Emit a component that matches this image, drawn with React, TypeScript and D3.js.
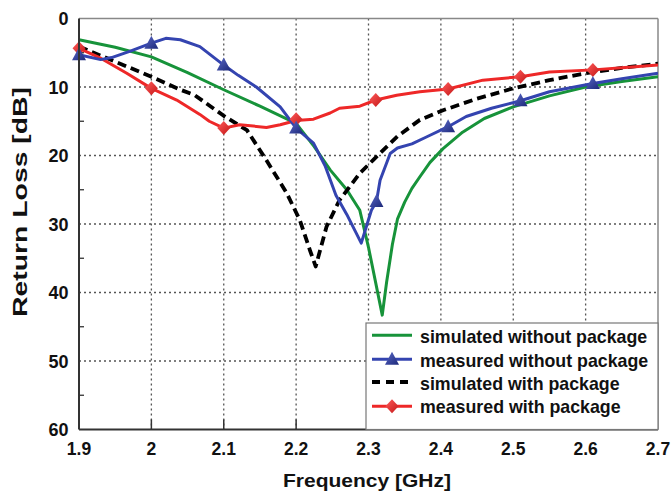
import React from "react";
import * as d3 from "d3";

const W = 672, H = 493;
const M = { left: 79, right: 658, top: 18.5, bottom: 429.5 };

const xTicks = [1.9, 2.0, 2.1, 2.2, 2.3, 2.4, 2.5, 2.6, 2.7];
const xTickLabels = ["1.9", "2", "2.1", "2.2", "2.3", "2.4", "2.5", "2.6", "2.7"];
const yTicks = [0, 10, 20, 30, 40, 50, 60];
const yMinor = [5, 15, 25, 35, 45, 55];

const simNoPkgF = [1.9, 1.95, 2.0, 2.05, 2.1, 2.15, 2.2, 2.225, 2.247, 2.27, 2.288, 2.3, 2.319, 2.325, 2.333, 2.34, 2.35, 2.36, 2.371, 2.385, 2.403, 2.43, 2.46, 2.5, 2.55, 2.6, 2.65, 2.7];
const simNoPkgV = [3.1, 4.2, 5.6, 7.9, 10.4, 12.8, 15.3, 18.7, 22.1, 25.0, 28.0, 33.4, 43.3, 38.5, 33.0, 29.3, 26.8, 24.8, 23.1, 21.0, 19.0, 16.6, 14.6, 12.9, 11.3, 10.0, 9.2, 8.5];

const measNoPkgF = [1.9, 1.93, 1.945, 1.97, 2.0, 2.02, 2.04, 2.067, 2.1, 2.12, 2.145, 2.178, 2.2, 2.224, 2.24, 2.255, 2.27, 2.29, 2.304, 2.311, 2.316, 2.33, 2.34, 2.36, 2.38, 2.41, 2.435, 2.47, 2.51, 2.55, 2.61, 2.65, 2.7];
const measNoPkgV = [5.3, 6.0, 5.7, 4.8, 3.6, 2.9, 3.1, 4.1, 6.8, 8.3, 10.0, 12.9, 16.0, 18.2, 21.5, 25.8, 28.6, 32.8, 28.0, 26.7, 23.6, 19.7, 18.9, 18.3, 17.3, 15.8, 14.3, 13.1, 12.0, 10.7, 9.5, 8.8, 8.0];
const measNoPkgMarkF = [1.9, 2.0, 2.1, 2.2, 2.311, 2.41, 2.51, 2.61];
const measNoPkgMarkV = [5.3, 3.6, 6.8, 16.0, 26.7, 15.8, 12.0, 9.5];

const simPkgF = [1.9, 1.95, 2.0, 2.04, 2.06, 2.1, 2.132, 2.159, 2.187, 2.205, 2.219, 2.227, 2.242, 2.26, 2.288, 2.306, 2.34, 2.371, 2.403, 2.45, 2.5, 2.55, 2.6, 2.65, 2.7];
const simPkgV = [4.1, 6.3, 8.5, 10.4, 11.2, 14.2, 16.3, 20.7, 25.5, 29.4, 33.8, 36.2, 30.4, 26.5, 22.6, 20.7, 17.2, 14.8, 13.4, 11.7, 10.2, 9.0, 8.0, 7.2, 6.6];

const measPkgF = [1.9, 1.93, 1.966, 2.0, 2.035, 2.067, 2.08, 2.1, 2.122, 2.159, 2.178, 2.2, 2.224, 2.247, 2.26, 2.288, 2.31, 2.339, 2.371, 2.41, 2.458, 2.51, 2.55, 2.61, 2.65, 2.7];
const measPkgV = [4.35, 5.8, 8.0, 10.2, 11.9, 14.0, 15.0, 16.0, 15.5, 15.9, 15.5, 14.9, 14.7, 13.8, 13.1, 12.8, 11.9, 11.2, 10.7, 10.3, 9.0, 8.5, 7.8, 7.5, 7.2, 6.8];
const measPkgMarkF = [1.9, 2.0, 2.1, 2.2, 2.31, 2.41, 2.51, 2.61];
const measPkgMarkV = [4.35, 10.2, 16.0, 14.7, 11.9, 10.3, 8.5, 7.5];

const legendLabels = ["simulated without package", "measured without package", "simulated with package", "measured with package"];

const GREEN = "#17933a";
const BLUE = "#3444b0";
const RED = "#ee2828";
const FONT = "'Liberation Sans', Arial, sans-serif";

const x = d3.scaleLinear().domain([1.9, 2.7]).range([M.left, M.right]);
const y = d3.scaleLinear().domain([0, 60]).range([M.top, M.bottom]);

function pathOf(fs: number[], vs: number[]) {
  const line = d3.line<number>().x((_, i) => x(fs[i])).y((v) => y(v)).curve(d3.curveLinear);
  return line(vs) || "";
}

const tri = (cx: number, cy: number) => `M${cx},${cy - 7.5} L${cx + 7},${cy + 5.5} L${cx - 7},${cy + 5.5} Z`;
const dia = (cx: number, cy: number) => `M${cx},${cy - 7} L${cx + 6.5},${cy} L${cx},${cy + 7} L${cx - 6.5},${cy} Z`;

export default function App() {
  const legX = 366, legY = 323;
  const rowBase = [343.3, 366.7, 390, 413.3];
  return (
    <svg width={W} height={H} style={{ position: "absolute", left: 0, top: 0, background: "#fff" }} fontFamily={FONT}>
      <defs>
        <linearGradient id="gTri" x1="0" y1="0" x2="1" y2="1">
          <stop offset="0" stopColor="#5a68c8" />
          <stop offset="1" stopColor="#1c2878" />
        </linearGradient>
        <linearGradient id="gDia" x1="0" y1="0" x2="1" y2="1">
          <stop offset="0" stopColor="#ff5a5a" />
          <stop offset="1" stopColor="#c41818" />
        </linearGradient>
        <clipPath id="plotClip">
          <rect x={M.left - 8} y={M.top} width={M.right - M.left + 8} height={M.bottom - M.top} />
        </clipPath>
      </defs>
      <rect x={0} y={0} width={W} height={H} fill="#fff" />
      {xTicks.slice(1, -1).map((t) => (
        <line key={"gx" + t} x1={x(t)} x2={x(t)} y1={M.top} y2={M.bottom} stroke="#555" strokeWidth={1.3} strokeDasharray="2,3" />
      ))}
      {yTicks.slice(1, -1).map((t) => (
        <line key={"gy" + t} x1={M.left} x2={M.right} y1={y(t)} y2={y(t)} stroke="#555" strokeWidth={1.3} strokeDasharray="2,3" />
      ))}
      {xTicks.slice(1, -1).map((t) => (
        <line key={"tx" + t} x1={x(t)} x2={x(t)} y1={M.bottom} y2={M.bottom - 10} stroke="#333" strokeWidth={1.5} />
      ))}
      {yMinor.map((t) => (
        <line key={"ty" + t} x1={M.left} x2={M.left + 5} y1={y(t)} y2={y(t)} stroke="#333" strokeWidth={1.3} />
      ))}
      <line x1={M.left} x2={M.right} y1={M.top} y2={M.top} stroke="#888" strokeWidth={1.5} />
      <line x1={M.right} x2={M.right} y1={M.top} y2={M.bottom} stroke="#888" strokeWidth={1.5} />
      <g clipPath="url(#plotClip)" fill="none" strokeLinejoin="round">
        <path d={pathOf(simNoPkgF, simNoPkgV)} stroke={GREEN} strokeWidth={3} />
        <path d={pathOf(simPkgF, simPkgV)} stroke="#000" strokeWidth={3.8} strokeDasharray="9,5" />
        <path d={pathOf(measPkgF, measPkgV)} stroke={RED} strokeWidth={3} />
        <path d={pathOf(measNoPkgF, measNoPkgV)} stroke={BLUE} strokeWidth={3} />
      </g>
      {measPkgMarkF.map((f, i) => (
        <path key={"md" + i} d={dia(x(f), y(measPkgMarkV[i]))} fill="url(#gDia)" />
      ))}
      {measNoPkgMarkF.map((f, i) => (
        <path key={"mt" + i} d={tri(x(f), y(measNoPkgMarkV[i]))} fill="url(#gTri)" />
      ))}
      <line x1={M.left} x2={M.left} y1={M.top} y2={M.bottom} stroke="#333" strokeWidth={2} />
      <line x1={M.left} x2={M.right} y1={M.bottom} y2={M.bottom} stroke="#333" strokeWidth={2} />
      <rect x={legX} y={legY} width={M.right - legX} height={M.bottom - legY} fill="#fff" stroke="#777" strokeWidth={1.2} />
      <line x1={372} x2={412} y1={rowBase[0] - 8} y2={rowBase[0] - 8} stroke={GREEN} strokeWidth={3} />
      <line x1={372} x2={412} y1={rowBase[1] - 7.5} y2={rowBase[1] - 7.5} stroke={BLUE} strokeWidth={3} />
      <path d={tri(392, rowBase[1] - 7.5)} fill="url(#gTri)" />
      <line x1={372} x2={410} y1={rowBase[2] - 8} y2={rowBase[2] - 8} stroke="#000" strokeWidth={3.8} strokeDasharray="8,6" />
      <line x1={372} x2={412} y1={rowBase[3] - 7} y2={rowBase[3] - 7} stroke={RED} strokeWidth={3} />
      <path d={dia(392, rowBase[3] - 7)} fill="url(#gDia)" />
      {legendLabels.map((l, i) => (
        <text key={l} x={420} y={rowBase[i]} fontSize={17.8} fontWeight="bold" fill="#111">{l}</text>
      ))}
      {yTicks.map((t) => (
        <text key={"yl" + t} x={68.5} y={y(t) + 6.5} textAnchor="end" fontSize={18} fontWeight="bold" fill="#111">{t}</text>
      ))}
      {xTicks.map((t, i) => (
        <text key={"xl" + t} x={x(t)} y={454.5} textAnchor="middle" fontSize={17.5} fontWeight="bold" fill="#111">{xTickLabels[i]}</text>
      ))}
      <text x={367} y={487} textAnchor="middle" fontSize={19} fontWeight="bold" fill="#111" textLength={168} lengthAdjust="spacingAndGlyphs">Frequency [GHz]</text>
      <text transform="translate(27,202) rotate(-90)" textAnchor="middle" fontSize={20} fontWeight="bold" fill="#111" textLength={230} lengthAdjust="spacingAndGlyphs">Return Loss [dB]</text>
    </svg>
  );
}
